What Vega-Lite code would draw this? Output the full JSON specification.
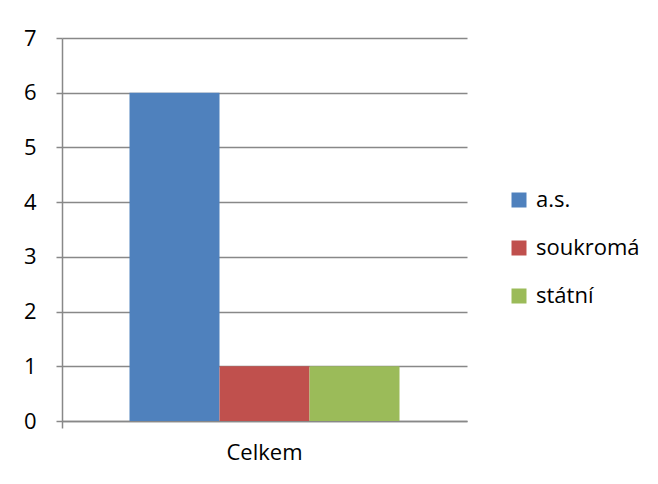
{
  "$schema": "https://vega.github.io/schema/vega-lite/v6.json",
  "autosize": {"type": "none"},
  "padding": {"left": 62, "top": 38, "right": 191, "bottom": 63},
  "width": 405,
  "height": 383,
  "background": "white",
  "config": {
    "view": {"stroke": null},
    "font": "Open Sans",
    "axis": {"labelFont": "Open Sans", "labelColor": "#000000", "labelFontSize": 22}
  },
  "data": {
    "values": [
      {"kategorie": "Celkem", "typ": "a.s.", "pocet": 6},
      {"kategorie": "Celkem", "typ": "soukromá", "pocet": 1},
      {"kategorie": "Celkem", "typ": "státní", "pocet": 1}
    ]
  },
  "mark": {"type": "bar"},
  "encoding": {
    "x": {
      "field": "kategorie",
      "type": "nominal",
      "scale": {"paddingInner": 0, "paddingOuter": 0},
      "axis": {
        "title": null,
        "labelAngle": 0,
        "domainColor": "#888888",
        "domainWidth": 1.5,
        "tickColor": "#888888",
        "tickWidth": 1.5,
        "tickSize": 7,
        "bandPosition": 0,
        "labelPadding": 14,
        "labelOffset": 0
      }
    },
    "xOffset": {
      "field": "typ",
      "type": "nominal",
      "sort": ["a.s.", "soukromá", "státní"],
      "scale": {"paddingInner": 0, "paddingOuter": 0.75}
    },
    "y": {
      "field": "pocet",
      "type": "quantitative",
      "scale": {"domain": [0, 7], "nice": false},
      "axis": {
        "title": null,
        "values": [0, 1, 2, 3, 4, 5, 6, 7],
        "labelOverlap": false,
        "grid": true,
        "gridColor": "#888888",
        "gridWidth": 1.5,
        "domainColor": "#888888",
        "domainWidth": 1.5,
        "tickColor": "#888888",
        "tickWidth": 1.5,
        "tickSize": 6,
        "labelPadding": 20,
        "labelAlign": "right"
      }
    },
    "color": {
      "field": "typ",
      "type": "nominal",
      "sort": ["a.s.", "soukromá", "státní"],
      "scale": {"domain": ["a.s.", "soukromá", "státní"], "range": ["#4F81BD", "#C0504D", "#9BBB59"]},
      "legend": {
        "title": null,
        "orient": "none",
        "legendX": 446,
        "legendY": 151,
        "symbolType": "square",
        "symbolSize": 225,
        "symbolStrokeWidth": 0,
        "labelFontSize": 22,
        "labelFont": "Open Sans",
        "labelColor": "#000000",
        "rowPadding": 26,
        "labelOffset": 6
      }
    }
  }
}
